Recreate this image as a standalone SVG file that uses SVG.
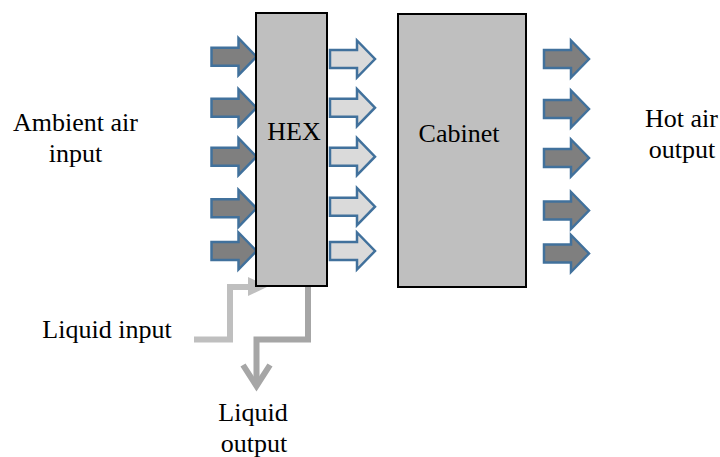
<svg xmlns="http://www.w3.org/2000/svg" xmlns:xlink="http://www.w3.org/1999/xlink" width="720" height="457" viewBox="0 0 720 457">
<style>
  text { font-family: 'Liberation Serif', 'Times New Roman', Times, 'DejaVu Serif', serif; font-size: 26px; fill: #000; text-anchor: middle; }
  .box { fill: #bfbfbf; stroke: #000; stroke-width: 2; }
  .dark { fill: #7f7f7f; stroke: #41719c; stroke-width: 2.5; stroke-linejoin: miter; }
  .light { fill: #dadada; stroke: #41719c; stroke-width: 2.5; stroke-linejoin: miter; }
  .pipeIn { fill: none; stroke: #bfbfbf; stroke-width: 6; }
  .pipeOut { fill: none; stroke: #a6a6a6; stroke-width: 6; }
</style>
<defs>
  <path id="blk" d="M-45,-9 H-18 V-18.5 L0,0 L-18,18.5 V9 H-45 Z"/>
</defs>
<rect width="720" height="457" fill="#fff"/>
<g id="connectors">
  <g id="air-in">
    <use xlink:href="#blk" class="dark" transform="translate(256.5,56.7)"/>
    <use xlink:href="#blk" class="dark" transform="translate(256.5,107.7)"/>
    <use xlink:href="#blk" class="dark" transform="translate(256.5,156.7)"/>
    <use xlink:href="#blk" class="dark" transform="translate(256.5,208.3)"/>
    <use xlink:href="#blk" class="dark" transform="translate(256.5,251)"/>
  </g>
  <g id="air-mid">
    <use xlink:href="#blk" class="light" transform="translate(375,59)"/>
    <use xlink:href="#blk" class="light" transform="translate(375,107.7)"/>
    <use xlink:href="#blk" class="light" transform="translate(375,156.7)"/>
    <use xlink:href="#blk" class="light" transform="translate(375,206.7)"/>
    <use xlink:href="#blk" class="light" transform="translate(375,251)"/>
  </g>
  <g id="air-out">
    <use xlink:href="#blk" class="dark" transform="translate(589,59)"/>
    <use xlink:href="#blk" class="dark" transform="translate(589,109)"/>
    <use xlink:href="#blk" class="dark" transform="translate(589,158)"/>
    <use xlink:href="#blk" class="dark" transform="translate(589,210.5)"/>
    <use xlink:href="#blk" class="dark" transform="translate(589,253.5)"/>
  </g>
  <g id="liquid-in">
    <path class="pipeIn" d="M194,339.5 H230 V287 H250"/>
    <path d="M248,277 L268,286.5 L248,296 Z" fill="#bfbfbf"/>
  </g>
  <g id="liquid-out">
    <path class="pipeOut" d="M308,286 V339.5 H256.5 V386"/>
    <path class="pipeOut" d="M243,365 L256.5,386 L270,365"/>
  </g>
</g>
<g id="hex">
  <rect class="box" x="256" y="13" width="71" height="273"/>
  <text x="294" y="140">HEX</text>
</g>
<g id="cabinet">
  <rect class="box" x="398" y="14" width="128" height="273"/>
  <text x="459" y="142">Cabinet</text>
</g>
<g id="ambient">
  <text x="75.5" y="131">Ambient air</text>
  <text x="75.5" y="162">input</text>
</g>
<g id="hot">
  <text x="681.5" y="127">Hot air</text>
  <text x="682" y="158">output</text>
</g>
<g id="liquid-input-label">
  <text x="107" y="338">Liquid input</text>
</g>
<g id="liquid-output-label">
  <text x="253" y="421">Liquid</text>
  <text x="254" y="452">output</text>
</g>
</svg>
